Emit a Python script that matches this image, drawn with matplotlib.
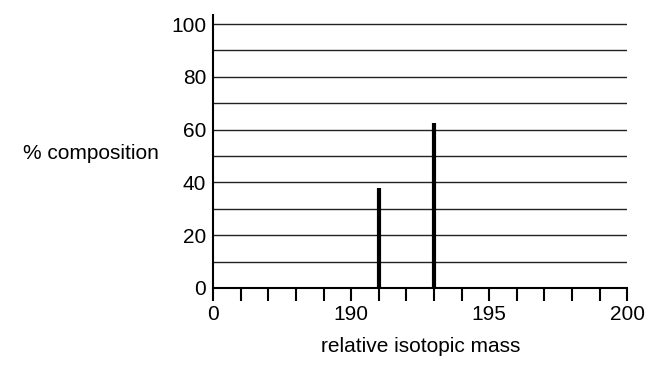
import matplotlib
matplotlib.use("Agg")
from matplotlib import pyplot as plt

# isotope data (mass, % composition)
masses = [191, 193]
percent = [38, 62.5]

x_tick_pos = [185, 190, 195, 200]
x_tick_labels = ["0", "190", "195", "200"]
y_ticks = [0, 20, 40, 60, 80, 100]
grid_levels = [10, 20, 30, 40, 50, 60, 70, 80, 90, 100]

plt.rcParams['font.family'] = ['Liberation Sans', 'DejaVu Sans']
fs = 15

fig = plt.figure(figsize=(6.5, 3.72), dpi=100)
ax = fig.add_axes([0.328, 0.226, 0.637, 0.734])

for g in grid_levels:
    ax.axhline(g, color='#222222', lw=1.0, zorder=1)

ax.vlines(masses, 0, percent, color='black', lw=3, zorder=3)

ax.set_xlim(185, 200)
ax.set_ylim(0, 103.5)
ax.set_xticks(range(185, 201), minor=True)
ax.set_xticks(x_tick_pos)
ax.set_xticklabels(x_tick_labels, fontsize=fs)
ax.set_yticks(y_ticks)
ax.set_yticklabels([str(v) for v in y_ticks], fontsize=fs)
ax.tick_params(axis='x', which='both', direction='out', length=9, width=1.5, pad=3)
ax.tick_params(axis='y', length=0, pad=5)

ax.spines['top'].set_visible(False)
ax.spines['right'].set_visible(False)
ax.spines['left'].set_linewidth(1.5)
ax.spines['bottom'].set_linewidth(1.5)

ax.set_xlabel("relative isotopic mass", fontsize=fs, labelpad=10)
fig.text(0.035, 0.588, "% composition", fontsize=fs, ha='left', va='center')

plt.savefig('out.png', dpi=100)
plt.close()
